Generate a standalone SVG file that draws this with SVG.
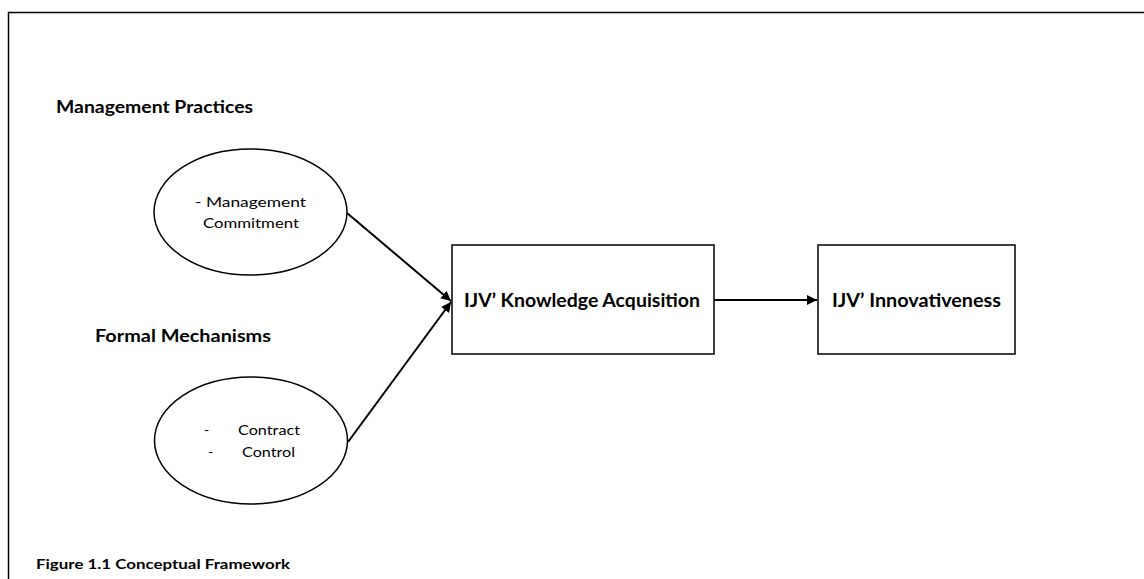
<svg xmlns="http://www.w3.org/2000/svg" width="1144" height="579" viewBox="0 0 1144 579">
<style>
.b{font-family:Lato,"Liberation Sans",Arial,sans-serif;font-weight:bold;fill:#000}
.r{font-family:Lato,"Liberation Sans",Arial,sans-serif;fill:#000}
.shape{fill:#fff;stroke:#000;stroke-width:1.5}
.conn{stroke:#000;stroke-width:2;fill:none;marker-end:url(#ah)}
</style>
<defs>
<marker id="ah" viewBox="0 0 10 10" refX="10" refY="5" markerWidth="5" markerHeight="5" orient="auto" markerUnits="strokeWidth">
<path d="M0,0 L10,5 L0,10 Z" fill="#000"/>
</marker>
</defs>
<rect width="1144" height="579" fill="#fff"/>
<path d="M8.5,579 V12.5 H1144" fill="none" stroke="#000" stroke-width="1.5"/>
<text class="b" x="56" y="113" font-size="16.5" textLength="197" lengthAdjust="spacingAndGlyphs">Management Practices</text>
<text class="b" x="95" y="342" font-size="16.5" textLength="176" lengthAdjust="spacingAndGlyphs">Formal Mechanisms</text>
<g id="connectors">
<line class="conn" x1="347" y1="213" x2="451" y2="301"/>
<line class="conn" x1="348" y1="442" x2="451" y2="302"/>
<line class="conn" x1="714" y1="300" x2="817" y2="300"/>
</g>
<g id="node-mgmt">
<ellipse class="shape" cx="250.5" cy="212" rx="96.5" ry="63"/>
<text class="r" x="195" y="207" font-size="14" textLength="111" lengthAdjust="spacingAndGlyphs">-  Management</text>
<text class="r" x="203" y="228" font-size="14" textLength="96" lengthAdjust="spacingAndGlyphs">Commitment</text>
</g>
<g id="node-formal">
<ellipse class="shape" cx="251" cy="440.5" rx="96.5" ry="63.5"/>
<text class="r" x="204" y="435" font-size="14">-</text>
<text class="r" x="238" y="435" font-size="14" textLength="62" lengthAdjust="spacingAndGlyphs">Contract</text>
<text class="r" x="208" y="457" font-size="14">-</text>
<text class="r" x="242" y="457" font-size="14" textLength="53" lengthAdjust="spacingAndGlyphs">Control</text>
</g>
<g id="node-ka">
<rect class="shape" x="452" y="245" width="262" height="109"/>
<text class="b" x="464" y="306.5" font-size="18.5" textLength="236" lengthAdjust="spacingAndGlyphs">IJV’ Knowledge Acquisition</text>
</g>
<g id="node-inn">
<rect class="shape" x="818" y="245" width="197" height="109"/>
<text class="b" x="832" y="306.5" font-size="18.5" textLength="169" lengthAdjust="spacingAndGlyphs">IJV’ Innovativeness</text>
</g>
<text class="b" x="36" y="569" font-size="13" textLength="254" lengthAdjust="spacingAndGlyphs">Figure 1.1 Conceptual  Framework</text>
</svg>
